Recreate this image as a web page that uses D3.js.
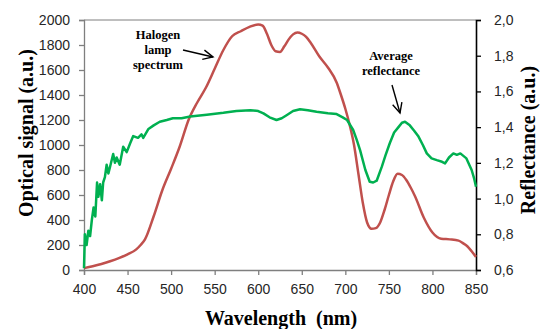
<html lang="en">
<head>
    <meta charset="UTF-8">
    <title>Halogen spectrum and reflectance</title>
    <style>
        body { margin: 0; background: #fff; }
    </style>
</head>
<body>
<svg id="svgId"></svg>
<script src="https://cdnjs.cloudflare.com/ajax/libs/d3/7.8.5/d3.min.js"></script>
<script>

    // Halogen lamp spectrum, left axis (wavelength nm, optical signal a.u.)
    const halogenWl = [400, 410, 420, 430, 440, 450, 460, 465, 470, 480, 490, 500, 510, 520, 530, 540, 550, 560, 570, 580,
        590, 600, 605, 610, 615, 620, 625, 630, 635, 640, 645, 650, 655, 660, 670, 680, 690, 695, 700, 705,
        710, 715, 720, 725, 730, 735, 740, 745, 750, 755, 760, 765, 770, 775, 780, 790, 800, 810, 820, 830,
        835, 840, 845, 850]
    const halogenSignal = [15, 30, 48, 70, 95, 125, 165, 200, 245, 430, 640, 810, 990, 1200, 1340, 1460, 1610, 1760, 1870, 1910,
        1945, 1965, 1955, 1890, 1800, 1750, 1745, 1790, 1845, 1885, 1900, 1890, 1865, 1820, 1710, 1620, 1500, 1400, 1290, 1160,
        1000, 770, 540, 380, 330, 335, 380, 480, 600, 710, 770, 760, 720, 660, 590, 420, 300, 250, 245, 235,
        215, 190, 150, 105]

    // Average reflectance, right axis
    const reflWl = [400, 401, 403, 405, 407, 409, 411, 413, 415, 416.5, 418.5, 420.5, 422, 424, 426, 428, 430, 433.5, 435.5, 437.5,
        441, 445, 449, 453, 456.5, 462, 466, 468, 474, 480, 487, 495, 502, 512, 522, 541, 560, 575, 591, 600,
        606, 613, 621, 627, 633, 640, 648, 657, 667, 680, 690, 697, 702, 709, 713, 717, 723, 728, 732, 736,
        742, 746, 751, 756, 761, 765, 768.5, 774, 779, 784, 789, 793.5, 799, 805, 811, 814.5, 819, 824, 828, 832,
        839, 845, 848, 850]
    const reflValue = [0.61, 0.80, 0.74, 0.82, 0.79, 0.88, 0.95, 0.90, 1.09, 1.01, 1.08, 0.99, 1.09, 1.12, 1.19, 1.14, 1.18, 1.25, 1.20, 1.23,
        1.19, 1.29, 1.26, 1.31, 1.35, 1.34, 1.36, 1.34, 1.39, 1.41, 1.43, 1.44, 1.45, 1.45, 1.46, 1.47, 1.48, 1.49, 1.495, 1.49,
        1.477, 1.455, 1.44, 1.45, 1.468, 1.49, 1.50, 1.495, 1.486, 1.478, 1.473, 1.455, 1.44, 1.384, 1.33, 1.27, 1.16, 1.094, 1.09, 1.10,
        1.18, 1.24, 1.31, 1.37, 1.40, 1.425, 1.43, 1.41, 1.38, 1.347, 1.30, 1.253, 1.225, 1.215, 1.206, 1.197, 1.23, 1.253, 1.245, 1.253,
        1.225, 1.16, 1.11, 1.066]

    // Tick values
    const xTicks = [400, 450, 500, 550, 600, 650, 700, 750, 800, 850]
    const leftTicks = [0, 200, 400, 600, 800, 1000, 1200, 1400, 1600, 1800, 2000]
    const rightTicks = [0.6, 0.8, 1.0, 1.2, 1.4, 1.6, 1.8, 2.0]

    // Svg dimensions
    var svgHeight = 329
    var svgWidth = 540

    const margin = {top: 20, right: 64, bottom: 59, left: 84};
    const width = svgWidth - margin.left - margin.right;
    const height = svgHeight - margin.top - margin.bottom;

    const redColor = '#c0504d'
    const greenColor = '#00b050'
    const tickFont = '"Liberation Sans", Arial, sans-serif'
    const titleFont = '"Liberation Serif", "Times New Roman", serif'

    const svg = d3.select('#svgId')
        .attr('height', svgHeight)
        .attr('width', svgWidth)
        .style('display', 'block')
        .append('g')
            .attr('transform', 'translate(' + margin.left + ',' + margin.top + ')');

    const xScale = d3.scaleLinear().domain([400, 850]).range([0, width]);
    const yLeft = d3.scaleLinear().domain([0, 2000]).range([height, 0]);
    const yRight = d3.scaleLinear().domain([0.6, 2.0]).range([height, 0]);

    // top border of the plot area
    svg.append('line')
        .attr('x1', 0).attr('x2', width)
        .attr('y1', 0).attr('y2', 0)
        .attr('stroke', '#7f7f7f')
        .attr('stroke-width', 1);

    // Axes
    const xAxis = svg.append('g')
        .attr('transform', `translate(0, ${height})`)
        .call(d3.axisBottom(xScale).tickValues(xTicks).tickSize(5).tickPadding(9).tickFormat(d3.format('d')))

    const leftAxis = svg.append('g')
        .call(d3.axisLeft(yLeft).tickValues(leftTicks).tickSize(5).tickPadding(9).tickFormat(d3.format('d')))

    const rightAxis = svg.append('g')
        .attr('transform', `translate(${width}, 0)`)
        .call(d3.axisRight(yRight).tickValues(rightTicks).tickSize(5).tickPadding(13)
            .tickFormat(d => d3.format('.1f')(d).replace('.', ',')))

    ;[xAxis, leftAxis].forEach(ax => {
        ax.select('.domain').attr('stroke', '#7f7f7f').attr('stroke-width', 1.3)
        ax.selectAll('.tick line').attr('stroke', '#7f7f7f').attr('stroke-width', 1.3)
    })
    rightAxis.select('.domain').attr('stroke', '#000').attr('stroke-width', 1.6)
    rightAxis.selectAll('.tick line').attr('stroke', '#000').attr('stroke-width', 1.3)

    ;[xAxis, leftAxis, rightAxis].forEach(ax => {
        ax.selectAll('.tick text')
            .style('font-family', tickFont)
            .style('font-size', '14px')
            .attr('fill', '#262626')
    })

    // Lines
    const halogen = halogenWl.map((w, i) => [w, halogenSignal[i]])
    const refl = reflWl.map((w, i) => [w, reflValue[i]])

    svg.append('path')
        .datum(halogen)
        .attr('fill', 'none')
        .attr('stroke', redColor)
        .attr('stroke-width', 2.5)
        .attr('stroke-linejoin', 'round')
        .attr('d', d3.line().x(d => xScale(d[0])).y(d => yLeft(d[1])).curve(d3.curveMonotoneX));

    svg.append('path')
        .datum(refl)
        .attr('fill', 'none')
        .attr('stroke', greenColor)
        .attr('stroke-width', 2.5)
        .attr('stroke-linejoin', 'round')
        .attr('d', d3.line().x(d => xScale(d[0])).y(d => yRight(d[1])));

    // Axis titles
    d3.select('#svgId').append('text')
        .attr('transform', `translate(33, ${margin.top + 113}) rotate(-90)`)
        .attr('text-anchor', 'middle')
        .style('font-family', titleFont)
        .style('font-weight', 'bold')
        .style('font-size', '20px')
        .text('Optical signal (a.u.)');

    d3.select('#svgId').append('text')
        .attr('transform', `translate(535, ${margin.top + 120}) rotate(-90)`)
        .attr('text-anchor', 'middle')
        .style('font-family', titleFont)
        .style('font-weight', 'bold')
        .style('font-size', '20px')
        .text('Reflectance (a.u.)');

    d3.select('#svgId').append('text')
        .attr('x', 281)
        .attr('y', 325)
        .attr('text-anchor', 'middle')
        .style('font-family', titleFont)
        .style('font-weight', 'bold')
        .style('font-size', '20px')
        .style('white-space', 'pre')
        .text('Wavelength  (nm)');

    // Annotations with arrows
    const noteFont = '"Liberation Serif", serif'
    function note(lines, cx, y0, dy) {
        const t = d3.select('#svgId').append('text')
            .attr('text-anchor', 'middle')
            .style('font-family', noteFont)
            .style('font-weight', 'bold')
            .style('font-size', '12.5px')
        lines.forEach((l, i) => t.append('tspan').attr('x', cx).attr('y', y0 + i * dy).text(l))
    }
    function arrow(x1, y1, x2, y2) {
        const g = d3.select('#svgId').append('g')
            .attr('stroke', '#000').attr('stroke-width', 1.4).attr('fill', 'none')
        g.append('line').attr('x1', x1).attr('y1', y1).attr('x2', x2).attr('y2', y2)
        const a = Math.atan2(y2 - y1, x2 - x1)
        const len = 11, spread = 0.45
        g.append('polyline').attr('points', [
            [x2 - len * Math.cos(a - spread), y2 - len * Math.sin(a - spread)],
            [x2, y2],
            [x2 - len * Math.cos(a + spread), y2 - len * Math.sin(a + spread)]
        ].map(p => p.join(',')).join(' '))
    }

    note(['Halogen', 'lamp', 'spectrum'], 158, 39, 15)
    arrow(183, 50, 213, 57)

    note(['Average', 'reflectance'], 391, 60, 15)
    arrow(392, 85, 400, 113)

</script>
</body>
</html>
